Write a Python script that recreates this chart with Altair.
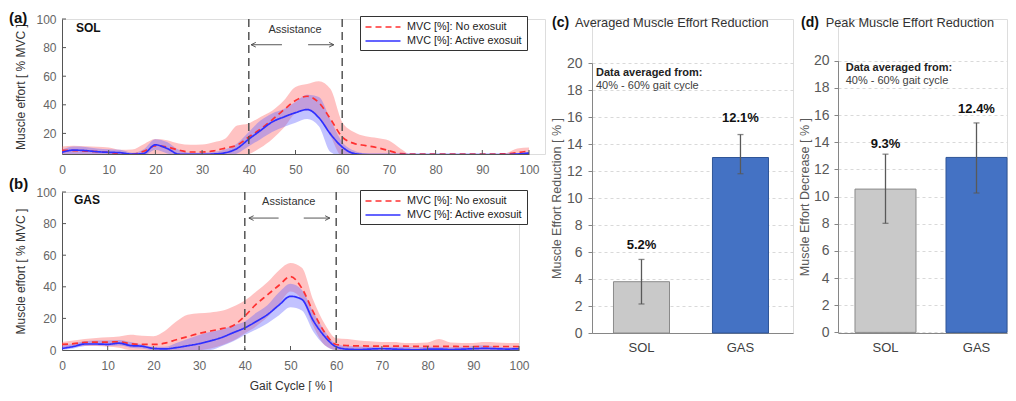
import altair as alt
import pandas as pd

FONT = "Liberation Sans"
RED = "#ff3030"
BLUE = "#2f2fff"
RED_FILL = "#ff6666"
BLUE_FILL = "#6666ff"
AX = "#555555"
LAB = "#666666"
NO_LBL = "MVC [%]: No exosuit"
ACT_LBL = "MVC [%]: Active exosuit"

gait_pct = [0, 2.5, 5, 7.5, 10, 12.5, 15, 17.5, 20, 22.5, 25, 27.5, 30, 32.5, 35, 37.5,
            40, 42.5, 45, 47.5, 50, 52.5, 55, 57.5, 60, 62.5, 65, 67.5, 70, 72.5, 75,
            77.5, 80, 82.5, 85, 87.5, 90, 92.5, 95, 97.5, 100]

# ---- SOL (a)
sol_no_mean = [8.2, 8.0, 7.6, 7.2, 6.7, 5.8, 5.4, 7.5, 11.2, 10.5, 8.3, 7.0, 7.0, 7.8, 9.8, 11.8,
               17.5, 23.0, 29.5, 36.5, 43.0, 46.0, 41.5, 30.0, 17.5, 13.0, 11.5, 10.0, 8.0, 5.8, 5.6,
               5.6, 5.6, 5.6, 5.6, 5.6, 5.6, 5.6, 5.7, 6.5, 7.8]
sol_no_hi = [10.8, 11.3, 11.0, 10.6, 10.2, 8.6, 8.8, 12.5, 16.1, 15.3, 13.0, 12.1, 12.3, 13.9, 16.5, 25.5,
             27.0, 31.5, 35.8, 43.0, 52.5, 54.5, 56.5, 51.0, 28.0, 21.0, 18.0, 16.8, 15.0, 9.3, 5.0,
             5.0, 5.0, 5.0, 5.0, 5.0, 5.0, 5.0, 6.0, 9.5, 10.2]
sol_no_lo = [4, 4, 4, 4, 4, 4, 4, 4, 4, 4, 4, 4, 4, 4, 4, 4,
             5.5, 10.0, 16.0, 24.0, 34.0, 36.0, 32.0, 18.0, 4, 4, 4, 4, 4, 4, 4,
             4, 4, 4, 4, 4, 4, 4, 4, 4, 4]
sol_act_mean = [6.8, 8.3, 8.0, 7.2, 6.8, 6.5, 5.5, 6.0, 12.0, 9.5, 5.5, 5.3, 5.3, 5.6, 6.5, 9.5,
                16.0, 22.0, 28.0, 31.5, 34.5, 36.7, 31.0, 19.5, 10.5, 6.0, 5.2, 5.2, 5.2, 5.2, 5.2,
                5.2, 5.2, 5.2, 5.2, 5.2, 5.2, 5.2, 5.2, 5.6, 6.3]
sol_act_hi = [8.5, 10.8, 10.5, 9.5, 9.0, 8.5, 6.5, 9.0, 16.0, 14.0, 8.5, 6.5, 6.5, 7.0, 9.0, 13.0,
              21.0, 29.0, 34.0, 37.0, 42.0, 47.0, 45.5, 29.5, 14.0, 8.0, 6.0, 5.2, 5.0, 5.0, 5.0,
              5.0, 5.0, 5.0, 5.0, 5.0, 5.0, 5.2, 5.6, 6.2, 6.8]
sol_act_lo = [5.0, 5.6, 5.6, 5.2, 5.0, 5.0, 4.5, 4.5, 8.5, 6.0, 4, 4, 4, 4, 4, 6.0,
              11.0, 16.0, 21.0, 24.5, 27.5, 30.0, 25.0, 7.0, 4, 4, 4, 4, 4, 4, 4,
              4, 4, 4, 4, 4, 4, 4, 4, 4, 4]

# ---- GAS (b)
gas_no_mean = [3.5, 4.0, 4.8, 5.0, 5.0, 5.2, 4.0, 3.5, 3.5, 4.3, 6.5, 8.5, 10.5, 12.0, 13.5, 15.5,
               21.5, 29.0, 35.0, 41.0, 46.5, 39.0, 24.0, 11.0, 3.5, 2.8, 2.6, 2.5, 2.5, 2.4, 2.4,
               2.3, 2.3, 2.3, 2.3, 2.2, 2.2, 2.2, 2.2, 2.2, 2.2]
gas_no_hi = [5.0, 6.0, 7.0, 7.6, 8.0, 8.5, 9.6, 9.0, 8.7, 12.0, 18.0, 22.3, 23.3, 23.8, 24.8, 27.5,
             31.3, 37.0, 43.0, 50.5, 55.0, 52.0, 31.5, 16.5, 7.5, 7.0, 6.0, 5.5, 5.0, 5.0, 4.5,
             4.5, 4.8, 7.0, 4.8, 4.5, 4.5, 5.0, 4.8, 4.5, 4.5]
gas_no_lo = [1.5, 2.0, 2.5, 2.5, 2.0, 1.5, 0, 0, 0, 0, 0, 0, 0, 1.0, 3.0, 6.0,
             10.5, 15.0, 21.0, 29.0, 37.0, 32.0, 15.0, 3.0, 0, 0, 0, 0, 0, 0, 0,
             0, 0, 0, 0, 0, 0, 0, 0, 0, 0]
gas_act_mean = [1.0, 2.2, 3.8, 3.8, 3.6, 4.3, 2.8, 2.4, 1.0, 0.7, 1.5, 2.7, 4.0, 5.8, 8.0, 11.0,
                14.0, 18.0, 22.5, 28.5, 34.0, 32.0, 18.5, 8.5, 2.0, 0.5, 0.3, 0.6, 0.8, 0.6, 0.3,
                0.1, 0.5, 0.6, 0.3, 0.5, 0.8, 1.0, 0.8, 0.6, 0.8]
gas_act_hi = [2.8, 4.0, 5.5, 6.0, 6.0, 6.4, 5.0, 3.5, 2.0, 2.0, 4.5, 7.0, 9.5, 11.5, 13.0, 15.5,
              18.0, 23.5, 28.5, 36.5, 42.0, 38.0, 24.0, 12.0, 3.8, 2.5, 2.2, 2.0, 2.0, 2.0, 2.0,
              1.8, 2.0, 2.0, 1.8, 2.0, 2.5, 3.0, 2.0, 1.8, 1.8]
gas_act_lo = [0, 1.0, 2.5, 2.8, 2.5, 2.8, 1.5, 1.0, 0, 0, 0, 0, 0, 0, 2.5, 5.5,
              9.5, 13.0, 17.0, 22.0, 27.0, 25.0, 11.5, 3.0, 0, 0, 0, 0, 0, 0, 0,
              0, 0, 0, 0, 0, 0, 0, 0, 0, 0]

# ---- bar panels
muscles = ["SOL", "GAS"]
avg_red = [3.8, 13.0]
avg_lo = [2.15, 11.8]
avg_hi = [5.45, 14.7]
avg_txt = ["5.2%", "12.1%"]
avg_txt_y = [6.5, 15.95]
peak_red = [10.55, 12.88]
peak_lo = [8.03, 10.26]
peak_hi = [13.12, 15.42]
peak_txt = ["9.3%", "12.4%"]
peak_txt_y = [13.9, 16.45]

ARROW_L = "M2,-1L0,0L2,1"
ARROW_R = "M-2,-1L0,0L-2,1"
LEG_SYMBOL = "M-3,0H3"


def line_panel(no_mean, no_lo, no_hi, act_mean, act_lo, act_hi, ymin, yvals, w, plot_w, h,
               muscle, muscle_xy, letter, letter_y, legend_y, assist, arrows, xtitle):
    xs = alt.Scale(domain=[0, 100], range=[0, plot_w], nice=False)
    ys = alt.Scale(domain=[ymin, 100], nice=False)
    xaxis = alt.Axis(values=list(range(0, 101, 10)), ticks=False, tickSize=0, labelFontSize=12,
                     labelColor=LAB, labelPadding=10, labelFlush=False, domainColor=AX, grid=False,
                     title=xtitle, titleFontSize=12, titleFontWeight="normal",
                     titleColor="#333333", titlePadding=9, labelFont=FONT, titleFont=FONT)
    yaxis = alt.Axis(values=yvals, ticks=False, tickSize=0, labelFontSize=12, labelColor=LAB,
                     labelPadding=6, labelFlush=False, domainColor=AX, grid=False,
                     title="Muscle effort [ % MVC ]",
                     titleFontSize=12, titleFontWeight="normal", titleColor="#333333",
                     titlePadding=8, labelFont=FONT, titleFont=FONT)
    X = alt.X("x:Q", scale=xs, axis=xaxis)

    def Y(f):
        return alt.Y(f, scale=ys, axis=yaxis)

    df_no = pd.DataFrame({"x": gait_pct, "lo": no_lo, "hi": no_hi})
    df_act = pd.DataFrame({"x": gait_pct, "lo": act_lo, "hi": act_hi})
    df_lines = pd.concat([
        pd.DataFrame({"x": gait_pct, "v": no_mean, "s": NO_LBL}),
        pd.DataFrame({"x": gait_pct, "v": act_mean, "s": ACT_LBL}),
    ])
    band_no = alt.Chart(df_no).mark_area(color=RED_FILL, opacity=0.4, interpolate="monotone",
                                         clip=True).encode(x=X, y=Y("lo:Q"), y2="hi:Q")
    band_act = alt.Chart(df_act).mark_area(color=BLUE_FILL, opacity=0.4, interpolate="monotone",
                                           clip=True).encode(x=X, y=Y("lo:Q"), y2="hi:Q")
    leg = alt.Legend(title=None, orient="none", legendX=298, legendY=legend_y, direction="vertical",
                     symbolType=LEG_SYMBOL, symbolSize=136, symbolStrokeWidth=1.5, symbolOffset=12,
                     labelFontSize=10.8, labelFont=FONT, labelColor="#222222",
                     strokeColor="#333333", fillColor="white", padding=4, rowPadding=2,
                     labelOffset=17, cornerRadius=0, labelLimit=300)
    lines = alt.Chart(df_lines).mark_line(interpolate="monotone", clip=True, strokeWidth=1.7).encode(
        x=X, y=Y("v:Q"),
        color=alt.Color("s:N", scale=alt.Scale(domain=[NO_LBL, ACT_LBL], range=[RED, BLUE]), legend=leg),
        strokeDash=alt.StrokeDash("s:N", scale=alt.Scale(domain=[NO_LBL, ACT_LBL], range=[[6, 4], [1, 0]]),
                                  legend=leg),
    )
    vlines = alt.Chart(pd.DataFrame({"x": [40, 60]})).mark_rule(
        color="#555555", strokeDash=[8, 5], strokeWidth=1.5).encode(x=X)
    ax_l, ax_r, ay = arrows
    arr = alt.Chart(pd.DataFrame({"x": [ax_l[0], ax_r[0]], "x2": [ax_l[1], ax_r[1]], "v": [ay, ay]})).mark_rule(
        color="#444444", strokeWidth=0.9).encode(x=X, x2="x2:Q", y=Y("v:Q"))
    heads = alt.Chart(pd.DataFrame({"x": [ax_l[0], ax_r[1]], "v": [ay, ay], "d": ["L", "R"]})).mark_point(
        filled=False, size=22, strokeWidth=0.9, color="#444444", opacity=1).encode(
        x=X, y=Y("v:Q"),
        shape=alt.Shape("d:N", scale=alt.Scale(domain=["L", "R"], range=[ARROW_L, ARROW_R]), legend=None))
    assist_t = alt.Chart(pd.DataFrame({"x": [assist[0]], "v": [assist[1]], "t": ["Assistance"]})).mark_text(
        fontSize=11, color="#333333", font=FONT).encode(x=X, y=Y("v:Q"), text="t:N")
    mus_t = alt.Chart(pd.DataFrame({"x": [muscle_xy[0]], "v": [muscle_xy[1]], "t": [muscle]})).mark_text(
        fontSize=12, fontWeight="bold", color="#111111", align="left", font=FONT).encode(
        x=X, y=Y("v:Q"), text="t:N")
    yt = alt.Chart(pd.DataFrame({"v": [v for v in yvals if v > ymin]})).mark_rule(color=AX).encode(
        y=Y("v:Q"), x=alt.value(0), x2=alt.value(4))
    xt = alt.Chart(pd.DataFrame({"x": list(range(10, 101, 10))})).mark_rule(color=AX).encode(
        x=X, y=alt.value(h), y2=alt.value(h - 4))
    let_t = alt.Chart(pd.DataFrame({"t": [letter]})).mark_text(
        fontSize=15, fontWeight="bold", color="#111111", align="left", baseline="middle", font=FONT).encode(
        x=alt.value(-53), y=alt.value(letter_y), text="t:N")
    return alt.layer(band_no, band_act, lines, vlines, arr, heads, assist_t, mus_t, yt, xt, let_t).properties(
        width=w, height=h)


panel_a = line_panel(sol_no_mean, sol_no_lo, sol_no_hi, sol_act_mean, sol_act_lo, sol_act_hi,
                     5.6, [20, 40, 60, 80, 100], 483, 467, 135, "SOL", (3.0, 93.9), "(a)", -1.3, -3,
                     (49.9, 92.3), ((40.5, 47.1), (52.7, 58.2), 82), None)
panel_b = line_panel(gas_no_mean, gas_no_lo, gas_no_hi, gas_act_mean, gas_act_lo, gas_act_hi,
                     0, [0, 20, 40, 60, 80, 100], 457, 457, 158, "GAS", (2.6, 94.9), "(b)", -8, -2,
                     (49.6, 93.7), ((40.9, 47.4), (52.9, 58.6), 83.5), "Gait Cycle [ % ]")


def bar_panel(vals, lo, hi, txt, txt_y, w, yrange, pin, pout, align, ytitle, letter, title,
              title_x, lpad, tpad, note_x, note_y):
    ys = alt.Scale(domain=[0, 20], range=yrange, nice=False)
    yaxis = alt.Axis(values=list(range(0, 21, 2)), grid=True, gridDash=[3, 3], gridColor="#d9d9d9",
                     domainColor="#868686", tickColor="#868686", tickSize=4, labelFontSize=14,
                     labelColor="#595959", labelPadding=lpad, title=ytitle, titleFontSize=12.5,
                     titleFontWeight="normal", titleColor="#595959", titlePadding=tpad,
                     titleY=(yrange[0] + yrange[1]) / 2,
                     labelFont=FONT, titleFont=FONT)
    xaxis = alt.Axis(title=None, ticks=False, labelFontSize=13, labelColor="#404040", labelPadding=8,
                     domainColor="#868686", labelAngle=0, labelFont=FONT, grid=False)
    X = alt.X("m:N", sort=muscles, scale=alt.Scale(domain=muscles, paddingInner=pin, paddingOuter=pout,
                                                   align=align), axis=xaxis)

    def Y(f):
        return alt.Y(f, scale=ys, axis=yaxis)

    df = pd.DataFrame({"m": muscles, "val": vals, "lo": lo, "hi": hi, "lab": txt, "ly": txt_y})
    base = alt.Chart(df)
    bars = base.mark_bar(strokeWidth=1).encode(
        x=X, y=Y("val:Q"),
        color=alt.Color("m:N", scale=alt.Scale(domain=muscles, range=["#c9c9c9", "#4472c4"]), legend=None),
        stroke=alt.Stroke("m:N", scale=alt.Scale(domain=muscles, range=["#8a8a8a", "#2f5597"]), legend=None))
    err = base.mark_rule(color="#595959", strokeWidth=1.3).encode(x=X, y=Y("lo:Q"), y2="hi:Q")
    cap_lo = base.mark_tick(color="#595959", thickness=1.3, size=6).encode(x=X, y=Y("lo:Q"))
    cap_hi = base.mark_tick(color="#595959", thickness=1.3, size=6).encode(x=X, y=Y("hi:Q"))
    labs = base.mark_text(fontSize=13, fontWeight="bold", color="#111111", font=FONT).encode(
        x=X, y=Y("ly:Q"), text="lab:N")
    note1 = alt.Chart(pd.DataFrame({"v": [note_y[0]], "t": ["Data averaged from:"]})).mark_text(
        fontSize=11, fontWeight="bold", color="#222222", align="left", font=FONT).encode(
        x=alt.value(note_x), y=Y("v:Q"), text="t:N")
    note2 = alt.Chart(pd.DataFrame({"v": [note_y[1]], "t": ["40% - 60% gait cycle"]})).mark_text(
        fontSize=11, color="#404040", align="left", font=FONT).encode(
        x=alt.value(note_x), y=Y("v:Q"), text="t:N")
    t1 = alt.Chart(pd.DataFrame({"t": [letter]})).mark_text(
        fontSize=14, fontWeight="bold", color="#111111", align="left", baseline="middle", font=FONT).encode(
        x=alt.value(title_x[0]), y=alt.value(3.7), text="t:N")
    t2 = alt.Chart(pd.DataFrame({"t": [title]})).mark_text(
        fontSize=12.8, color="#333333", align="left", baseline="middle", font=FONT).encode(
        x=alt.value(title_x[1]), y=alt.value(3.7), text="t:N")
    return alt.layer(bars, err, cap_lo, cap_hi, labs, note1, note2, t1, t2).properties(width=w, height=314)


panel_c = bar_panel(avg_red, avg_lo, avg_hi, avg_txt, avg_txt_y, 201, [314, 44], 0.434, 0.2323, 0.467,
                    "Muscle Effort Reduction [ % ]", "(c)", "Averaged Muscle Effort Reduction",
                    (-40, -17), 6, 3, 4, (19.28, 18.32))
panel_d = bar_panel(peak_red, peak_lo, peak_hi, peak_txt, peak_txt_y, 169, [313.4, 41.7], 0.3297, 0.0934, 1.0,
                    "Muscle Effort Decrease [ % ]", "(d)", "Peak Muscle Effort Reduction",
                    (-37, -12.3), 5, 2, 7.7, (19.43, 18.49))

RES = dict(color="independent", stroke="independent", strokeDash="independent", shape="independent")
left_col = alt.vconcat(panel_a, panel_b, spacing=0).resolve_scale(**RES)
chart = alt.hconcat(left_col, panel_c, panel_d, spacing=3).resolve_scale(**RES).properties(
    padding={"left": 0, "top": 2, "right": 0, "bottom": 0}
).configure_view(stroke=None).configure(font=FONT, background="white")

chart.save("out.html", embed_options={"renderer": "svg", "actions": False})
